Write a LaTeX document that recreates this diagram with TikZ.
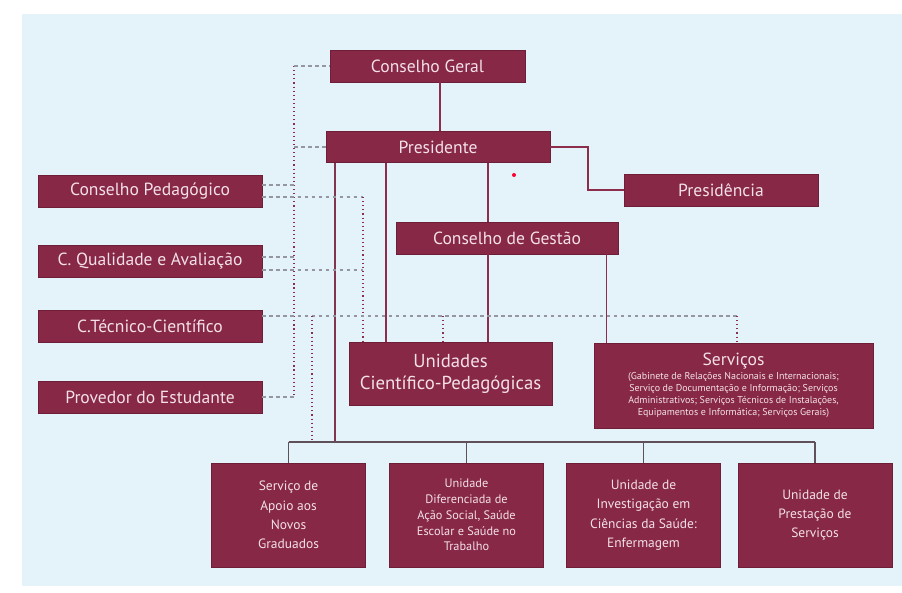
\documentclass[tikz,border=0pt]{standalone}
\usepackage{fontspec}
\setmainfont{PT Sans}
\usepackage{xcolor}
\usepackage{tikz}

\definecolor{boxfill}{RGB}{134,40,70}
\definecolor{boxrim}{RGB}{110,30,55}
\definecolor{boxtext}{RGB}{244,224,232}
\definecolor{paper}{RGB}{228,242,249}
\definecolor{wire}{RGB}{140,45,75}
\definecolor{buswire}{RGB}{95,80,90}
\definecolor{greydash}{RGB}{150,150,162}

\tikzset{
  box/.style={draw=boxrim, fill=boxfill, text=boxtext, align=center, inner sep=2pt, line width=0.6pt},
  bigbox/.style={box, font=\fontsize{15}{17}\selectfont},
  lowbox/.style={box, font=\fontsize{11.5}{16.5}\selectfont, minimum width=4.62cm, minimum height=3.12cm},
  wire/.style={draw=wire, line width=1pt},
  bus/.style={draw=buswire, line width=1pt},
  gdash/.style={draw=greydash, line width=0.9pt, dash pattern=on 3pt off 3pt},
  rdot/.style={draw=wire, line width=0.9pt, dash pattern=on 1pt off 2.5pt}
}

\begin{document}
\begin{tikzpicture}[x=0.03cm, y=-0.03cm]
  \useasboundingbox (0,0) rectangle (902,593);
  \fill[paper] (22,14) rectangle (902,586);

  \draw (427.5,66) node[bigbox, minimum width=5.85cm, minimum height=0.96cm] (cg) {Conselho Geral}
   (438,147) node[bigbox, minimum width=6.72cm, minimum height=0.93cm] (pres) {Presidente}
   (721,190) node[bigbox, minimum width=5.82cm, minimum height=0.96cm] (presid) {Presidência}
   (150,191) node[bigbox, minimum width=6.72cm, minimum height=0.96cm] (cp) {Conselho Pedagógico}
   (150,261) node[bigbox, minimum width=6.72cm, minimum height=0.96cm] (cqa) {C. Qualidade e Avaliação}
   (150,326) node[bigbox, minimum width=6.72cm, minimum height=0.96cm] (cte) {C.Técnico-Científico}
   (150,397) node[bigbox, minimum width=6.72cm, minimum height=0.96cm] (prov) {Provedor do Estudante}
   (507,238) node[bigbox, minimum width=6.66cm, minimum height=0.96cm] (cges) {Conselho de Gestão}
   (450.5,373.5) node[box, font=\fontsize{16}{19}\selectfont, minimum width=6.09cm, minimum height=1.89cm] (ucp) {Unidades\\Científico-Pedagógicas};
  \node[box, font=\fontsize{8.5}{10.3}\selectfont, minimum width=8.37cm, minimum height=2.55cm] (serv) at (733.5,385.5)
    {{\fontsize{15}{17}\selectfont Serviços}\\[1pt]
     (Gabinete de Relações Nacionais e Internacionais;\\
      Serviço de Documentação e Informação; Serviços\\
      Administrativos; Serviços Técnicos de Instalações,\\
      Equipamentos e Informática; Serviços Gerais)};

  \draw (288.5,515) node[lowbox] (b1) {Serviço de\\Apoio aos\\Novos\\Graduados}
   (466.5,515) node[lowbox, font=\fontsize{10.5}{13.5}\selectfont] (b2) {Unidade\\Diferenciada de\\Ação Social, Saúde\\Escolar e Saúde no\\Trabalho}
   (643.5,515) node[lowbox] (b3) {Unidade de\\Investigação em\\Ciências da Saúde:\\Enfermagem}
   (815,515) node[lowbox] (b4) {Unidade de\\Prestação de\\Serviços};

  % helper columns
  \coordinate (xmain) at (335,0);
  \coordinate (xucp) at (386,0);
  \coordinate (xges) at (488,0);
  \coordinate (xserv) at (606,0);
  \coordinate (xturn) at (588,0);
  \coordinate (xdot) at (294,0);
  \coordinate (xdotb) at (363,0);
  \coordinate (xdotc) at (312,0);
  \coordinate (xdotd) at (443,0);
  \coordinate (xdote) at (737,0);
  \coordinate (ybus) at (0,442);
  \coordinate (ytec) at (0,316);

  % solid links
  \draw[wire] (cg.south -| pres.north) ++(2,0) -- ++(0,49);
  \draw[wire] (pres.east) -- (pres.east -| xturn) |- (presid.west);
  \draw[wire] (pres.south -| xucp) -- (ucp.north -| xucp);
  \draw[wire] (pres.south -| xges) -- (cges.north -| xges);
  \draw[wire] (cges.south -| xges) -- (ucp.north -| xges);
  \draw[wire, line width=0.7pt] (cges.south -| xserv) -- (serv.north -| xserv);
  \draw[bus, draw=wire!70!buswire] (pres.south -| xmain) -- (ybus -| xmain);
  \draw[bus] (ybus -| b1.north) -- (ybus -| b4.north);
  \foreach \b in {b1,b2,b3,b4}
    \draw[bus] (ybus -| \b.north) -- (\b.north);

  % dotted links
  \draw[rdot] (cg.west -| xdot) -- (prov.east -| xdot);
  \draw[gdash] (cg.west -| xdot) -- (cg.west);
  \draw[gdash] (pres.west -| xdot) -- (pres.west);
  \draw[gdash] ([yshift=0.18cm]cp.east) -- ([yshift=0.18cm]cp.east -| xdot);
  \draw[gdash] ([yshift=-0.18cm]cp.east) -- ([yshift=-0.18cm]cp.east -| xdotb);
  \draw[rdot] ([yshift=-0.18cm]cp.east -| xdotb) -- (ucp.north -| xdotb);
  \draw[gdash] ([yshift=0.12cm]cqa.east) -- ([yshift=0.12cm]cqa.east -| xdot);
  \draw[gdash] ([yshift=-0.27cm]cqa.east) -- ([yshift=-0.27cm]cqa.east -| xdotb);
  \draw[gdash] (cte.east |- ytec) -- (ytec -| xdote);
  \draw[rdot] (ytec -| xdote) -- (serv.north -| xdote);
  \draw[rdot] (ytec -| xdotd) -- (ucp.north -| xdotd);
  \draw[rdot] (ytec -| xdotc) -- (ybus -| xdotc);
  \draw[gdash] (prov.east) -- (prov.east -| xdot);

  \fill[red!80!magenta] (514,175) circle (0.06cm);
\end{tikzpicture}
\end{document}
